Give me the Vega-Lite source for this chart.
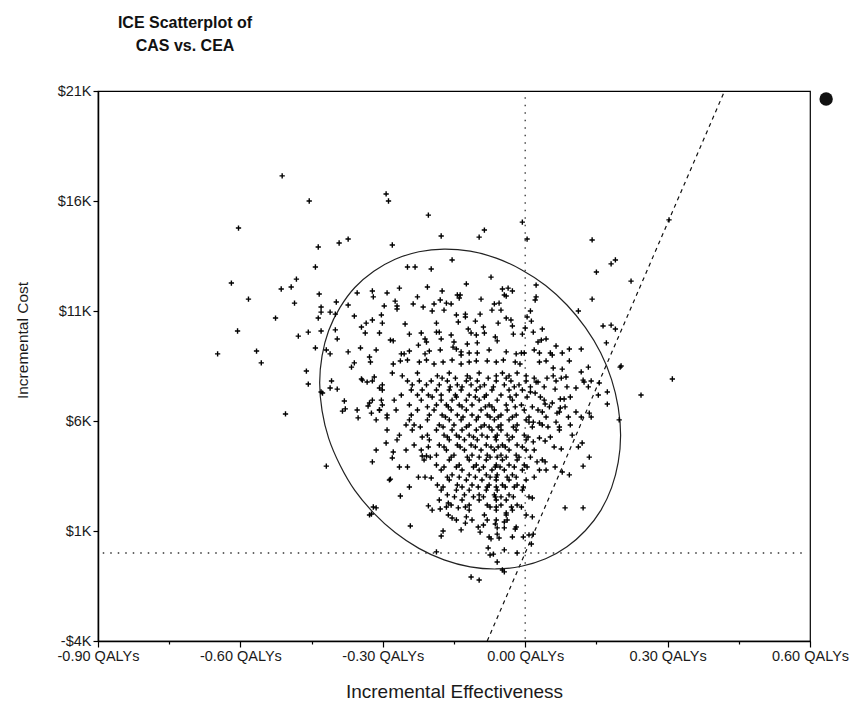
{
"$schema": "https://vega.github.io/schema/vega-lite/v6.json",
"width": 712, "height": 550,
"autosize": {"type": "none"},
"padding": {"left": 98, "top": 91, "right": 44, "bottom": 66},
"background": "white",
"config": {
 "view": {"stroke": "#000", "strokeWidth": 1.2},
 "axis": {"domainColor": "#000", "domainWidth": 1.5, "tickColor": "#000", "tickWidth": 1.2, "labelColor": "#1a1a1a", "titleColor": "#1a1a1a", "labelFont": "Liberation Sans", "titleFont": "Liberation Sans", "titleFontWeight": "normal", "grid": false, "labelFlush": false, "labelOverlap": false}
},
"title": {"text": ["ICE Scatterplot of", "CAS vs. CEA"], "anchor": "start", "align": "center", "dx": 87, "fontSize": 16, "font": "Liberation Sans", "fontWeight": "bold", "color": "#111", "lineHeight": 23, "offset": 29, "frame": "group"},
"datasets": {
 "refLines": [{"line":"vertical","effect":0,"cost":-3900},{"line":"vertical","effect":0,"cost":20900},{"line":"horizontal","effect":-0.89,"cost":0},{"line":"horizontal","effect":0.585,"cost":0}],
 "wtp": [{"effect":-0.08,"cost":-4000},{"effect":0.42,"cost":21000}],
 "marker": [{"effect":0.634,"cost":20640}],
 "ellipse": [
  {"t":0,"effect":0.201,"cost":5354},{"t":10,"effect":0.196,"cost":4127},{"t":20,"effect":0.182,"cost":2973},{"t":30,"effect":0.159,"cost":1927},{"t":40,"effect":0.127,"cost":1022},{"t":50,"effect":0.088,"cost":284},{"t":60,"effect":0.043,"cost":-263},{"t":70,"effect":-0.008,"cost":-603},{"t":80,"effect":-0.061,"cost":-726},{"t":90,"effect":-0.116,"cost":-628},{"t":100,"effect":-0.171,"cost":-312},{"t":110,"effect":-0.224,"cost":211},{"t":120,"effect":-0.274,"cost":929},{"t":130,"effect":-0.319,"cost":1816},{"t":140,"effect":-0.359,"cost":2846},{"t":150,"effect":-0.390,"cost":3989},{"t":160,"effect":-0.414,"cost":5211},{"t":170,"effect":-0.428,"cost":6473},{"t":180,"effect":-0.433,"cost":7736},{"t":190,"effect":-0.428,"cost":8963},{"t":200,"effect":-0.414,"cost":10117},{"t":210,"effect":-0.390,"cost":11163},{"t":220,"effect":-0.359,"cost":12068},{"t":230,"effect":-0.319,"cost":12806},{"t":240,"effect":-0.274,"cost":13353},{"t":250,"effect":-0.224,"cost":13693},{"t":260,"effect":-0.171,"cost":13816},{"t":270,"effect":-0.116,"cost":13718},{"t":280,"effect":-0.061,"cost":13402},{"t":290,"effect":-0.008,"cost":12879},{"t":300,"effect":0.043,"cost":12161},{"t":310,"effect":0.088,"cost":11274},{"t":320,"effect":0.127,"cost":10244},{"t":330,"effect":0.159,"cost":9101},{"t":340,"effect":0.182,"cost":7879},{"t":350,"effect":0.196,"cost":6617}
 ],
 "simulations": [
{"effect":-0.512,"cost":17140},{"effect":-0.455,"cost":16000},{"effect":-0.604,"cost":14770},{"effect":-0.436,"cost":13910},{"effect":-0.392,"cost":14090},{"effect":-0.373,"cost":14270},{"effect":-0.442,"cost":13000},{"effect":-0.619,"cost":12270},{"effect":-0.482,"cost":12450},{"effect":-0.514,"cost":12000},{"effect":-0.493,"cost":12090},{"effect":-0.583,"cost":11540},{"effect":-0.486,"cost":11360},{"effect":-0.434,"cost":11770},{"effect":-0.354,"cost":11820},{"effect":-0.430,"cost":11180},{"effect":-0.430,"cost":10950},{"effect":-0.411,"cost":10950},{"effect":-0.398,"cost":11410},{"effect":-0.373,"cost":11270},{"effect":-0.400,"cost":10860},{"effect":-0.360,"cost":10770},{"effect":-0.526,"cost":10680},{"effect":-0.436,"cost":10680},{"effect":-0.345,"cost":10270},{"effect":-0.335,"cost":10450},{"effect":-0.337,"cost":10000},{"effect":-0.606,"cost":10090},{"effect":-0.478,"cost":9860},{"effect":-0.457,"cost":10040},{"effect":-0.430,"cost":10090},{"effect":-0.400,"cost":10140},{"effect":-0.396,"cost":9730},{"effect":-0.648,"cost":9050},{"effect":-0.566,"cost":9180},{"effect":-0.556,"cost":8640},{"effect":-0.442,"cost":9320},{"effect":-0.419,"cost":9230},{"effect":-0.411,"cost":9050},{"effect":-0.373,"cost":9140},{"effect":-0.347,"cost":9320},{"effect":-0.360,"cost":8640},{"effect":-0.328,"cost":8910},
{"effect":-0.293,"cost":16320},{"effect":-0.288,"cost":16000},{"effect":-0.204,"cost":15360},{"effect":-0.177,"cost":14410},{"effect":-0.280,"cost":14000},{"effect":-0.097,"cost":14360},{"effect":-0.086,"cost":14680},{"effect":-0.006,"cost":15040},{"effect":0.004,"cost":14270},{"effect":-0.154,"cost":13320},{"effect":-0.248,"cost":13000},{"effect":-0.232,"cost":13000},{"effect":-0.198,"cost":12910},{"effect":-0.072,"cost":12540},{"effect":-0.124,"cost":12230},{"effect":-0.206,"cost":12090},{"effect":-0.265,"cost":12040},{"effect":-0.175,"cost":11910},{"effect":-0.322,"cost":11910},{"effect":-0.320,"cost":11640},{"effect":-0.291,"cost":11820},{"effect":-0.274,"cost":11450},{"effect":-0.270,"cost":11230},{"effect":-0.270,"cost":11090},{"effect":-0.297,"cost":11230},{"effect":-0.236,"cost":11320},{"effect":-0.227,"cost":11640},{"effect":-0.215,"cost":11180},{"effect":-0.192,"cost":11320},{"effect":-0.179,"cost":11500},{"effect":-0.166,"cost":11360},{"effect":-0.156,"cost":11320},{"effect":-0.143,"cost":11730},{"effect":-0.137,"cost":11730},{"effect":-0.139,"cost":11590},{"effect":-0.093,"cost":11540},{"effect":-0.048,"cost":12000},{"effect":-0.036,"cost":12040},{"effect":-0.027,"cost":11910},{"effect":-0.044,"cost":11730},{"effect":-0.040,"cost":11680},{"effect":-0.065,"cost":11320},{"effect":-0.055,"cost":11360},{"effect":-0.303,"cost":10820},{"effect":-0.301,"cost":10450},{"effect":-0.322,"cost":10590},{"effect":-0.253,"cost":10410},{"effect":-0.196,"cost":11000},{"effect":-0.171,"cost":11040},{"effect":-0.145,"cost":10820},{"effect":-0.126,"cost":10860},{"effect":-0.126,"cost":10730},{"effect":-0.141,"cost":10500},{"effect":-0.187,"cost":10450},{"effect":-0.105,"cost":10540},{"effect":-0.095,"cost":10860},{"effect":-0.070,"cost":11040},{"effect":-0.051,"cost":11040},{"effect":-0.040,"cost":10680},{"effect":-0.057,"cost":10450},{"effect":-0.030,"cost":10590},{"effect":-0.027,"cost":10320},{"effect":0.004,"cost":10730},{"effect":0.000,"cost":10230},{"effect":-0.307,"cost":10000},{"effect":-0.244,"cost":9950},{"effect":-0.219,"cost":10000},{"effect":-0.187,"cost":10040},{"effect":-0.181,"cost":10040},{"effect":-0.156,"cost":9910},{"effect":-0.120,"cost":10180},{"effect":-0.114,"cost":10000},{"effect":-0.103,"cost":9910},{"effect":-0.088,"cost":10270},{"effect":-0.086,"cost":10000},{"effect":-0.063,"cost":9820},{"effect":-0.059,"cost":9640},{"effect":-0.025,"cost":9950},{"effect":-0.006,"cost":9950},{"effect":-0.284,"cost":9680},{"effect":-0.278,"cost":9640},{"effect":-0.211,"cost":9730},{"effect":-0.208,"cost":9590},{"effect":-0.177,"cost":9730},{"effect":-0.150,"cost":9590},{"effect":-0.122,"cost":9500},{"effect":-0.101,"cost":9550},{"effect":-0.314,"cost":9230},{"effect":-0.261,"cost":9050},{"effect":-0.255,"cost":9050},{"effect":-0.244,"cost":9180},{"effect":-0.225,"cost":9450},{"effect":-0.211,"cost":9050},{"effect":-0.202,"cost":9180},{"effect":-0.179,"cost":9230},{"effect":-0.152,"cost":9360},{"effect":-0.145,"cost":9270},{"effect":-0.135,"cost":9140},{"effect":-0.135,"cost":9000},{"effect":-0.118,"cost":9090},{"effect":-0.101,"cost":9090},{"effect":-0.076,"cost":9230},{"effect":-0.040,"cost":9140},{"effect":-0.019,"cost":9050},{"effect":-0.008,"cost":9090},{"effect":-0.002,"cost":9090},{"effect":-0.326,"cost":8680},{"effect":-0.278,"cost":8590},{"effect":-0.263,"cost":8730},{"effect":-0.248,"cost":8770},{"effect":-0.223,"cost":8680},{"effect":-0.208,"cost":8770},{"effect":-0.192,"cost":8590},{"effect":-0.173,"cost":8680},{"effect":-0.154,"cost":8770},{"effect":-0.135,"cost":8590},{"effect":-0.118,"cost":8680},{"effect":-0.103,"cost":8730},{"effect":-0.080,"cost":8730},{"effect":-0.061,"cost":8680},{"effect":-0.046,"cost":8770},{"effect":-0.021,"cost":8680},{"effect":-0.011,"cost":8590},
{"effect":0.141,"cost":14230},{"effect":0.190,"cost":13320},{"effect":0.181,"cost":13140},{"effect":0.150,"cost":12770},{"effect":0.223,"cost":12360},{"effect":0.303,"cost":15140},{"effect":0.141,"cost":11540},{"effect":0.112,"cost":11000},{"effect":0.023,"cost":12180},{"effect":0.023,"cost":11640},{"effect":0.021,"cost":11500},{"effect":0.011,"cost":11000},{"effect":0.013,"cost":10540},{"effect":0.036,"cost":10180},{"effect":0.017,"cost":10040},{"effect":0.027,"cost":9590},{"effect":0.034,"cost":9680},{"effect":0.044,"cost":9730},{"effect":0.065,"cost":9410},{"effect":0.019,"cost":9230},{"effect":0.030,"cost":9090},{"effect":0.053,"cost":9090},{"effect":0.078,"cost":9090},{"effect":0.093,"cost":9270},{"effect":0.118,"cost":9270},{"effect":0.164,"cost":10320},{"effect":0.181,"cost":10360},{"effect":0.190,"cost":10180},{"effect":0.171,"cost":9550},{"effect":0.030,"cost":8680},{"effect":0.044,"cost":8730},{"effect":0.093,"cost":8730},{"effect":0.059,"cost":8410},{"effect":0.078,"cost":8360},{"effect":0.133,"cost":8450},{"effect":0.200,"cost":8450},
{"effect":0.310,"cost":7910},{"effect":0.244,"cost":7180},{"effect":0.173,"cost":7320},{"effect":0.173,"cost":6770},{"effect":0.154,"cost":7180},{"effect":0.198,"cost":6050},{"effect":0.135,"cost":6360},{"effect":0.139,"cost":6180},{"effect":0.122,"cost":7860},{"effect":0.139,"cost":7820},{"effect":0.133,"cost":7550},{"effect":0.156,"cost":7730},{"effect":0.118,"cost":8230},{"effect":0.086,"cost":8000},{"effect":0.107,"cost":7500},{"effect":0.059,"cost":8050},{"effect":0.065,"cost":7820},{"effect":0.063,"cost":7450},{"effect":0.023,"cost":7770},{"effect":0.027,"cost":7770},{"effect":0.011,"cost":7320},{"effect":0.021,"cost":7270},{"effect":0.040,"cost":6950},{"effect":0.042,"cost":6770},{"effect":0.057,"cost":6820},{"effect":0.074,"cost":7000},{"effect":0.082,"cost":7000},{"effect":0.074,"cost":6590},{"effect":0.072,"cost":6410},{"effect":0.067,"cost":6360},{"effect":0.065,"cost":5950},{"effect":0.027,"cost":6500},{"effect":0.036,"cost":6410},{"effect":0.008,"cost":5950},{"effect":0.017,"cost":5950},{"effect":0.030,"cost":5910},{"effect":0.036,"cost":5820},{"effect":0.091,"cost":6180},{"effect":0.107,"cost":6410},{"effect":0.095,"cost":5820},{"effect":0.072,"cost":5590},{"effect":0.072,"cost":5730},{"effect":0.099,"cost":5360},{"effect":0.030,"cost":5230},{"effect":0.042,"cost":5090},{"effect":0.017,"cost":5050},{"effect":0.120,"cost":5000},{"effect":0.112,"cost":4820},{"effect":0.076,"cost":4730},{"effect":0.019,"cost":4680},{"effect":0.135,"cost":4360},{"effect":0.036,"cost":4230},{"effect":0.042,"cost":4140},{"effect":0.025,"cost":4140},{"effect":0.030,"cost":3770},{"effect":0.044,"cost":3770},{"effect":0.122,"cost":3950},{"effect":0.078,"cost":3680},{"effect":0.093,"cost":3550},{"effect":0.015,"cost":2500},{"effect":0.084,"cost":2050},{"effect":0.122,"cost":2050},{"effect":0.017,"cost":860},{"effect":0.013,"cost":410},{"effect":0.202,"cost":8500},{"effect":0.124,"cost":7770},{"effect":0.057,"cost":9000},
{"effect":-0.461,"cost":8270},{"effect":-0.457,"cost":7680},{"effect":-0.430,"cost":7320},{"effect":-0.427,"cost":7270},{"effect":-0.408,"cost":7820},{"effect":-0.411,"cost":7500},{"effect":-0.396,"cost":7450},{"effect":-0.345,"cost":7910},{"effect":-0.333,"cost":7770},{"effect":-0.381,"cost":6910},{"effect":-0.379,"cost":6550},{"effect":-0.385,"cost":6450},{"effect":-0.354,"cost":6500},{"effect":-0.352,"cost":6140},{"effect":-0.331,"cost":6680},{"effect":-0.505,"cost":6320},{"effect":-0.419,"cost":3950},{"effect":-0.328,"cost":1730},
{"effect":-0.366,"cost":8450},{"effect":-0.343,"cost":7860},{"effect":-0.318,"cost":8000},{"effect":-0.307,"cost":7500},{"effect":-0.328,"cost":6820},{"effect":-0.324,"cost":6360},{"effect":-0.307,"cost":6500},{"effect":-0.291,"cost":6140},{"effect":-0.303,"cost":6950},{"effect":-0.286,"cost":3320},{"effect":-0.324,"cost":1770},{"effect":-0.314,"cost":2050},
{"effect":-0.314,"cost":4680},{"effect":-0.322,"cost":4140},{"effect":-0.284,"cost":3360},{"effect":-0.244,"cost":3000},{"effect":-0.263,"cost":2590},{"effect":-0.278,"cost":4590},{"effect":-0.280,"cost":4320},{"effect":-0.251,"cost":4680},{"effect":-0.265,"cost":3910},{"effect":-0.248,"cost":3910},{"effect":-0.293,"cost":5000},{"effect":-0.217,"cost":4410},{"effect":-0.208,"cost":4410},{"effect":-0.225,"cost":3450},{"effect":-0.211,"cost":3450},{"effect":-0.198,"cost":3410},{"effect":-0.185,"cost":3090},{"effect":-0.204,"cost":2140},{"effect":-0.196,"cost":1950},{"effect":-0.179,"cost":2000},{"effect":-0.242,"cost":1230},{"effect":-0.173,"cost":1000},{"effect":-0.177,"cost":770},{"effect":-0.162,"cost":1730},{"effect":-0.154,"cost":1590},{"effect":-0.162,"cost":2270},{"effect":-0.141,"cost":2050},{"effect":-0.135,"cost":1050},{"effect":-0.124,"cost":1640},{"effect":-0.126,"cost":1360},{"effect":-0.099,"cost":1180},{"effect":-0.095,"cost":950},{"effect":-0.076,"cost":730},{"effect":-0.078,"cost":230},{"effect":-0.063,"cost":1320},{"effect":-0.059,"cost":1140},{"effect":-0.059,"cost":860},{"effect":-0.055,"cost":680},{"effect":-0.044,"cost":1140},{"effect":-0.044,"cost":140},{"effect":-0.021,"cost":1090},{"effect":-0.004,"cost":730},{"effect":-0.059,"cost":-410},{"effect":-0.114,"cost":-1090},{"effect":-0.097,"cost":-1230},{"effect":-0.074,"cost":-90},{"effect":-0.048,"cost":-770},{"effect":-0.044,"cost":-860},{"effect":-0.187,"cost":50},{"effect":-0.320,"cost":2090},{"effect":-0.017,"cost":0},{"effect":0.008,"cost":820},{"effect":-0.019,"cost":1180},{"effect":-0.027,"cost":730},{"effect":0.015,"cost":1640},{"effect":-0.040,"cost":1820},{"effect":-0.044,"cost":1410},{"effect":-0.088,"cost":1270},{"effect":-0.067,"cost":-50},{"effect":-0.072,"cost":640},
{"effect":-0.280,"cost":8180},{"effect":-0.259,"cost":8050},{"effect":-0.227,"cost":8180},{"effect":-0.185,"cost":8050},{"effect":-0.160,"cost":8180},{"effect":-0.122,"cost":8050},{"effect":-0.097,"cost":8180},{"effect":-0.061,"cost":8050},{"effect":-0.048,"cost":8180},{"effect":-0.034,"cost":8050},{"effect":-0.017,"cost":8180},{"effect":0.002,"cost":8050},
{"effect":-0.322,"cost":7820},{"effect":-0.301,"cost":7640},{"effect":-0.248,"cost":7820},{"effect":-0.238,"cost":7640},{"effect":-0.223,"cost":7820},{"effect":-0.208,"cost":7640},{"effect":-0.198,"cost":7820},{"effect":-0.181,"cost":7640},{"effect":-0.164,"cost":7820},{"effect":-0.143,"cost":7640},{"effect":-0.124,"cost":7820},{"effect":-0.114,"cost":7640},{"effect":-0.101,"cost":7820},{"effect":-0.086,"cost":7640},{"effect":-0.061,"cost":7820},{"effect":-0.044,"cost":7640},{"effect":-0.030,"cost":7820},{"effect":-0.013,"cost":7640},{"effect":0.002,"cost":7820},
{"effect":-0.301,"cost":7410},{"effect":-0.261,"cost":7180},{"effect":-0.240,"cost":7410},{"effect":-0.227,"cost":7180},{"effect":-0.217,"cost":7410},{"effect":-0.204,"cost":7180},{"effect":-0.187,"cost":7410},{"effect":-0.177,"cost":7180},{"effect":-0.160,"cost":7410},{"effect":-0.147,"cost":7180},{"effect":-0.135,"cost":7410},{"effect":-0.118,"cost":7180},{"effect":-0.103,"cost":7410},{"effect":-0.082,"cost":7180},{"effect":-0.070,"cost":7410},{"effect":-0.051,"cost":7180},{"effect":-0.034,"cost":7410},{"effect":-0.019,"cost":7180},{"effect":-0.006,"cost":7410},
{"effect":-0.322,"cost":6950},{"effect":-0.301,"cost":6730},{"effect":-0.276,"cost":6950},{"effect":-0.244,"cost":6730},{"effect":-0.219,"cost":6950},{"effect":-0.187,"cost":6730},{"effect":-0.177,"cost":6950},{"effect":-0.166,"cost":6730},{"effect":-0.154,"cost":6950},{"effect":-0.139,"cost":6730},{"effect":-0.124,"cost":6950},{"effect":-0.112,"cost":6730},{"effect":-0.097,"cost":6950},{"effect":-0.076,"cost":6730},{"effect":-0.059,"cost":6950},{"effect":-0.040,"cost":6730},{"effect":-0.027,"cost":6950},{"effect":-0.008,"cost":6730},
{"effect":-0.307,"cost":6500},{"effect":-0.291,"cost":6270},{"effect":-0.272,"cost":6500},{"effect":-0.240,"cost":6270},{"effect":-0.227,"cost":6500},{"effect":-0.202,"cost":6270},{"effect":-0.192,"cost":6500},{"effect":-0.175,"cost":6270},{"effect":-0.156,"cost":6500},{"effect":-0.143,"cost":6270},{"effect":-0.124,"cost":6500},{"effect":-0.112,"cost":6270},{"effect":-0.093,"cost":6500},{"effect":-0.080,"cost":6270},{"effect":-0.065,"cost":6500},{"effect":-0.051,"cost":6270},{"effect":-0.038,"cost":6500},{"effect":-0.019,"cost":6270},{"effect":-0.002,"cost":6500},
{"effect":-0.314,"cost":6050},{"effect":-0.251,"cost":5820},{"effect":-0.244,"cost":6050},{"effect":-0.234,"cost":5820},{"effect":-0.206,"cost":6050},{"effect":-0.181,"cost":5820},{"effect":-0.160,"cost":6050},{"effect":-0.150,"cost":5820},{"effect":-0.135,"cost":6050},{"effect":-0.118,"cost":5820},{"effect":-0.103,"cost":6050},{"effect":-0.086,"cost":5820},{"effect":-0.065,"cost":6050},{"effect":-0.051,"cost":5820},{"effect":-0.034,"cost":6050},{"effect":-0.017,"cost":5820},{"effect":0.002,"cost":6050},
{"effect":-0.291,"cost":5590},{"effect":-0.265,"cost":5360},{"effect":-0.238,"cost":5590},{"effect":-0.206,"cost":5360},{"effect":-0.187,"cost":5590},{"effect":-0.171,"cost":5360},{"effect":-0.154,"cost":5590},{"effect":-0.145,"cost":5360},{"effect":-0.133,"cost":5590},{"effect":-0.118,"cost":5360},{"effect":-0.103,"cost":5590},{"effect":-0.091,"cost":5360},{"effect":-0.070,"cost":5590},{"effect":-0.059,"cost":5360},{"effect":-0.051,"cost":5590},{"effect":-0.038,"cost":5360},{"effect":-0.019,"cost":5590},{"effect":-0.002,"cost":5360},
{"effect":-0.270,"cost":5140},{"effect":-0.234,"cost":4910},{"effect":-0.202,"cost":5140},{"effect":-0.181,"cost":4910},{"effect":-0.160,"cost":5140},{"effect":-0.143,"cost":4910},{"effect":-0.128,"cost":5140},{"effect":-0.114,"cost":4910},{"effect":-0.101,"cost":5140},{"effect":-0.082,"cost":4910},{"effect":-0.061,"cost":5140},{"effect":-0.048,"cost":4910},{"effect":-0.034,"cost":5140},{"effect":-0.017,"cost":4910},{"effect":0.002,"cost":5140},
{"effect":-0.219,"cost":4680},{"effect":-0.187,"cost":4450},{"effect":-0.166,"cost":4680},{"effect":-0.150,"cost":4450},{"effect":-0.128,"cost":4680},{"effect":-0.112,"cost":4450},{"effect":-0.093,"cost":4680},{"effect":-0.080,"cost":4450},{"effect":-0.065,"cost":4680},{"effect":-0.051,"cost":4450},{"effect":-0.034,"cost":4680},{"effect":-0.019,"cost":4450},{"effect":0.002,"cost":4680},
{"effect":-0.213,"cost":4230},{"effect":-0.187,"cost":4000},{"effect":-0.160,"cost":4230},{"effect":-0.139,"cost":4000},{"effect":-0.118,"cost":4230},{"effect":-0.103,"cost":4000},{"effect":-0.082,"cost":4230},{"effect":-0.061,"cost":4000},{"effect":-0.048,"cost":4230},{"effect":-0.034,"cost":4000},{"effect":-0.017,"cost":4230},{"effect":-0.002,"cost":4000},
{"effect":-0.177,"cost":3770},{"effect":-0.154,"cost":3550},{"effect":-0.133,"cost":3770},{"effect":-0.118,"cost":3550},{"effect":-0.097,"cost":3770},{"effect":-0.082,"cost":3550},{"effect":-0.070,"cost":3770},{"effect":-0.059,"cost":3550},{"effect":-0.044,"cost":3770},{"effect":-0.027,"cost":3550},{"effect":-0.006,"cost":3770},
{"effect":-0.160,"cost":3320},{"effect":-0.143,"cost":3090},{"effect":-0.124,"cost":3320},{"effect":-0.112,"cost":3090},{"effect":-0.091,"cost":3320},{"effect":-0.076,"cost":3090},{"effect":-0.061,"cost":3320},{"effect":-0.048,"cost":3090},{"effect":-0.034,"cost":3320},{"effect":-0.017,"cost":3090},{"effect":0.002,"cost":3320},
{"effect":-0.177,"cost":2860},{"effect":-0.164,"cost":2640},{"effect":-0.145,"cost":2860},{"effect":-0.128,"cost":2640},{"effect":-0.118,"cost":2860},{"effect":-0.097,"cost":2640},{"effect":-0.082,"cost":2860},{"effect":-0.065,"cost":2640},{"effect":-0.059,"cost":2860},{"effect":-0.034,"cost":2640},{"effect":-0.006,"cost":2860},
{"effect":-0.181,"cost":2410},{"effect":-0.156,"cost":2180},{"effect":-0.133,"cost":2410},{"effect":-0.118,"cost":2180},{"effect":-0.097,"cost":2410},{"effect":-0.080,"cost":2180},{"effect":-0.061,"cost":2410},{"effect":-0.051,"cost":2180},{"effect":-0.040,"cost":2410},{"effect":-0.017,"cost":2180},
{"effect":-0.118,"cost":1950},{"effect":-0.086,"cost":1730},{"effect":-0.061,"cost":1950},{"effect":-0.040,"cost":1730},{"effect":-0.027,"cost":1950},{"effect":0.002,"cost":1730},
{"effect":-0.145,"cost":1500},{"effect":-0.112,"cost":1500},{"effect":-0.080,"cost":1500},{"effect":-0.061,"cost":1500},{"effect":-0.038,"cost":1500},
{"effect":-0.175,"cost":7950},{"effect":-0.147,"cost":7950},{"effect":-0.116,"cost":7950},{"effect":-0.078,"cost":7950},{"effect":-0.040,"cost":7950},{"effect":0.019,"cost":7950},{"effect":0.046,"cost":7950},{"effect":0.076,"cost":7950},
{"effect":-0.158,"cost":7550},{"effect":-0.133,"cost":7550},{"effect":-0.095,"cost":7550},{"effect":-0.067,"cost":7550},{"effect":-0.023,"cost":7550},{"effect":0.011,"cost":7550},{"effect":0.040,"cost":7550},{"effect":0.088,"cost":7550},
{"effect":-0.196,"cost":7090},{"effect":-0.145,"cost":7090},{"effect":-0.105,"cost":7090},{"effect":-0.086,"cost":7090},{"effect":-0.032,"cost":7090},{"effect":0.004,"cost":7090},{"effect":0.032,"cost":7090},{"effect":0.095,"cost":7090},
{"effect":-0.206,"cost":6640},{"effect":-0.162,"cost":6640},{"effect":-0.133,"cost":6640},{"effect":-0.084,"cost":6640},{"effect":-0.070,"cost":6640},{"effect":-0.021,"cost":6640},{"effect":0.015,"cost":6640},{"effect":0.051,"cost":6640},{"effect":0.084,"cost":6640},
{"effect":-0.168,"cost":6180},{"effect":-0.131,"cost":6180},{"effect":-0.099,"cost":6180},{"effect":-0.074,"cost":6180},{"effect":-0.057,"cost":6180},{"effect":-0.027,"cost":6180},{"effect":0.008,"cost":6180},{"effect":0.044,"cost":6180},{"effect":0.118,"cost":6180},
{"effect":-0.221,"cost":5730},{"effect":-0.173,"cost":5730},{"effect":-0.124,"cost":5730},{"effect":-0.093,"cost":5730},{"effect":-0.076,"cost":5730},{"effect":-0.057,"cost":5730},{"effect":-0.025,"cost":5730},{"effect":0.015,"cost":5730},{"effect":0.048,"cost":5730},
{"effect":-0.217,"cost":5270},{"effect":-0.164,"cost":5270},{"effect":-0.139,"cost":5270},{"effect":-0.109,"cost":5270},{"effect":-0.080,"cost":5270},{"effect":-0.063,"cost":5270},{"effect":-0.027,"cost":5270},{"effect":0.006,"cost":5270},{"effect":0.053,"cost":5270},
{"effect":-0.204,"cost":4820},{"effect":-0.171,"cost":4820},{"effect":-0.137,"cost":4820},{"effect":-0.105,"cost":4820},{"effect":-0.072,"cost":4820},{"effect":-0.057,"cost":4820},{"effect":-0.042,"cost":4820},{"effect":-0.006,"cost":4820},{"effect":0.061,"cost":4820},
{"effect":-0.200,"cost":4360},{"effect":-0.156,"cost":4360},{"effect":-0.122,"cost":4360},{"effect":-0.097,"cost":4360},{"effect":-0.074,"cost":4360},{"effect":-0.059,"cost":4360},{"effect":-0.040,"cost":4360},{"effect":-0.013,"cost":4360},{"effect":0.011,"cost":4360},
{"effect":-0.171,"cost":3910},{"effect":-0.145,"cost":3910},{"effect":-0.109,"cost":3910},{"effect":-0.088,"cost":3910},{"effect":-0.063,"cost":3910},{"effect":-0.053,"cost":3910},{"effect":-0.023,"cost":3910},{"effect":0.004,"cost":3910},{"effect":0.063,"cost":3910},
{"effect":-0.164,"cost":3450},{"effect":-0.139,"cost":3450},{"effect":-0.105,"cost":3450},{"effect":-0.074,"cost":3450},{"effect":-0.061,"cost":3450},{"effect":-0.038,"cost":3450},{"effect":-0.019,"cost":3450},{"effect":0.019,"cost":3450},
{"effect":-0.173,"cost":3000},{"effect":-0.133,"cost":3000},{"effect":-0.099,"cost":3000},{"effect":-0.080,"cost":3000},{"effect":-0.061,"cost":3000},{"effect":-0.042,"cost":3000},{"effect":-0.023,"cost":3000},{"effect":-0.004,"cost":3000},
{"effect":-0.149,"cost":2550},{"effect":-0.109,"cost":2550},{"effect":-0.088,"cost":2550},{"effect":-0.063,"cost":2550},{"effect":-0.051,"cost":2550},{"effect":-0.025,"cost":2550},{"effect":0.008,"cost":2550},
{"effect":-0.166,"cost":2090},{"effect":-0.126,"cost":2090},{"effect":-0.074,"cost":2090},{"effect":-0.061,"cost":2090},{"effect":-0.029,"cost":2090},{"effect":-0.008,"cost":2090}
 ]
},
"encoding": {
 "x": {"field": "effect", "type": "quantitative",
   "scale": {"domain": [-0.9, 0.6], "nice": false, "zero": false},
   "axis": {"title": "Incremental Effectiveness", "values": [-0.9,-0.75,-0.6,-0.45,-0.3,-0.15,0,0.15,0.3,0.45,0.6],
     "labelExpr": "round(datum.value*100) % 30 == 0 ? (datum.value < 0 ? '-' : '') + format(abs(datum.value), '.2f') + ' QALYs' : ''",
     "tickSize": {"condition": {"test": "round(datum.value*100) % 30 == 0", "value": 6}, "value": 3},
     "labelFontSize": 14.5, "labelPadding": 2, "titleFontSize": 19, "titleY": 50, "titleBaseline": "middle"}},
 "y": {"field": "cost", "type": "quantitative",
   "scale": {"domain": [-4000, 21000], "nice": false, "zero": false},
   "axis": {"title": "Incremental Cost", "values": [-4000, 1000, 6000, 11000, 16000, 21000],
     "labelExpr": "(datum.value < 0 ? '-' : '') + '$' + (abs(datum.value)/1000) + 'K'",
     "tickSize": 5, "labelFontSize": 14.5, "labelPadding": 2, "titleFontSize": 15.5,
     "titleX": -76, "titleY": 249, "titleAngle": 270, "titleAlign": "center", "titleBaseline": "middle"}}
},
"layer": [
 {"data": {"name": "refLines"}, "mark": {"type": "line", "stroke": "#333", "strokeWidth": 1.3, "strokeDash": [1.5, 6]}, "encoding": {"detail": {"field": "line"}}},
 {"data": {"name": "wtp"}, "mark": {"type": "line", "stroke": "#111", "strokeWidth": 1.2, "strokeDash": [4, 4]}, "encoding": {}},
 {"data": {"name": "ellipse"}, "mark": {"type": "line", "stroke": "#222", "strokeWidth": 1.2, "interpolate": "cardinal-closed"}, "encoding": {"order": {"field": "t"}}},
 {"data": {"name": "simulations"}, "mark": {"type": "point", "shape": "M-1,0H1M0,-1V1", "filled": false, "stroke": "#000", "strokeWidth": 1.4, "size": 28, "opacity": 1}},
 {"data": {"name": "marker"}, "mark": {"type": "point", "shape": "circle", "filled": true, "color": "#111", "size": 180, "opacity": 1}}
]
}
